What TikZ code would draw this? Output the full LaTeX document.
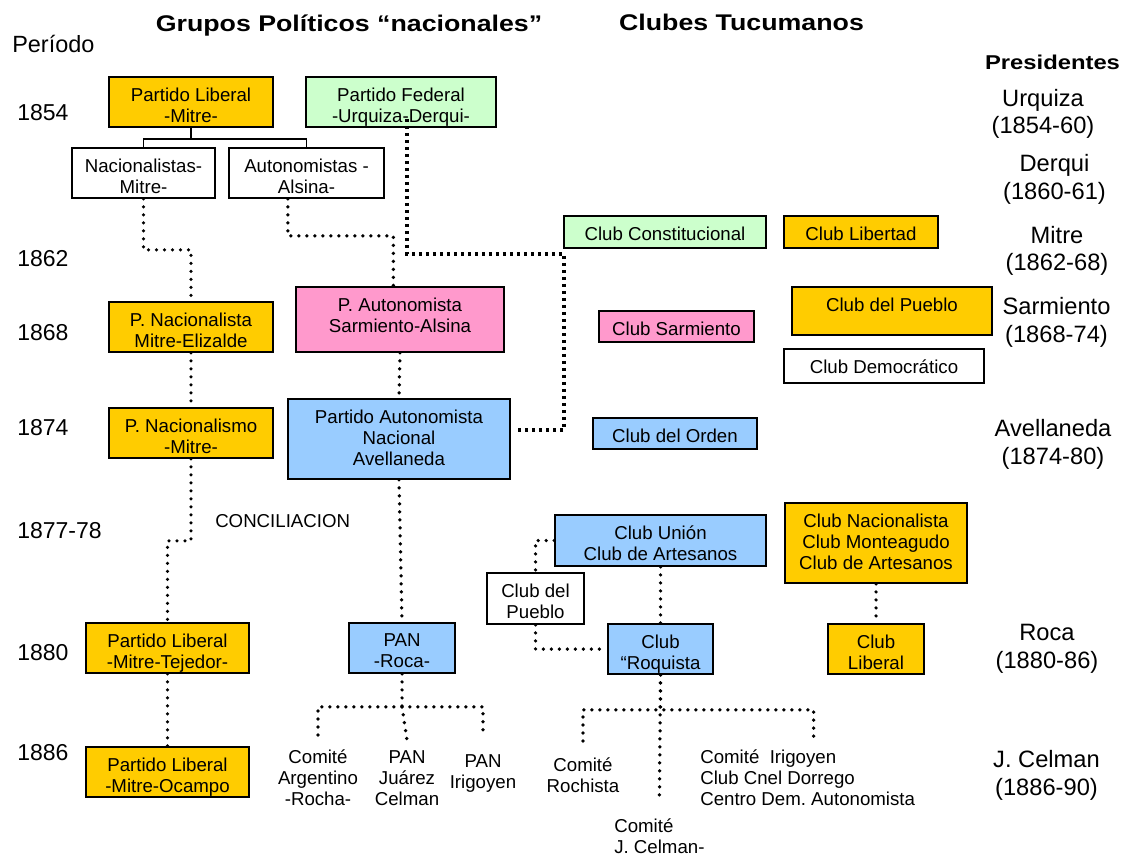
\documentclass[tikz,border=0pt]{standalone}
\usepackage{fontspec}
\setmainfont{Liberation Sans}
\usepackage{graphicx}
\usetikzlibrary{fit}

\definecolor{naranja}{HTML}{FFCC00}
\definecolor{verde}{HTML}{CCFFCC}
\definecolor{rosa}{HTML}{FF99CC}
\definecolor{celeste}{HTML}{99CCFF}

\begin{document}
\begin{tikzpicture}[x=0.75pt, y=-0.75pt,
  caja/.style={draw=black, line width=1.3pt, inner sep=0pt},
  txt/.style={anchor=north, yshift=-8.7pt, align=center, inner sep=0pt,
    font=\fontsize{14}{15.75}\selectfont},
  libre/.style={anchor=base, align=center, inner sep=0pt,
    font=\fontsize{14}{15.75}\selectfont},
  anio/.style={anchor=base west, inner sep=0pt, font=\fontsize{17.25}{20}\selectfont},
  pres/.style={anchor=base, align=center, inner sep=0pt,
    font=\fontsize{17.75}{20.6}\selectfont},
  titulo/.style={anchor=base, inner sep=0pt, font=\fontsize{17}{20}\selectfont\bfseries},
  arbol/.style={line width=1.1pt},
  puntos/.style={line width=2.8pt, line cap=round, dash pattern=on 0pt off 6pt},
  cuadros/.style={line width=2.4pt, dash pattern=on 2.4pt off 2.85pt}]

  % Fix the page size
  \useasboundingbox (0,0) rectangle (1128,858);

  % Titles
  \node[titulo] (t-grupos) at (349,31) {\scalebox{1.18}[1]{Grupos Políticos “nacionales”}};
  \node[titulo] (t-clubes) at (741.5,30.5) {\scalebox{1.18}[1]{Clubes Tucumanos}};
  \node[titulo, font=\fontsize{15}{18}\selectfont\bfseries] (t-pres) at (1052.5,69.5)
    {\scalebox{1.19}[1]{Presidentes}};
  \node[anio, font=\fontsize{17.6}{20}\selectfont] (periodo) at (12,52) {Período};

  % Years on the left
  \node[anio] (a1854) at (17,120.5) {1854};
  \node[anio] (a1862) at (17,266.5) {1862};
  \node[anio] (a1868) at (17,340) {1868};
  \node[anio] (a1874) at (17,435.5) {1874};
  \node[anio] (a1877) at (17,538) {1877-78};
  \node[anio] (a1880) at (17,660) {1880};
  \node[anio] (a1886) at (17,760) {1886};

  % Presidents on the right (placed by their last line)
  \node[pres] (p-urq) at (1043,133.5) {Urquiza\\(1854-60)};
  \node[pres] (p-der) at (1054.5,199) {Derqui\\(1860-61)};
  \node[pres] (p-mit) at (1057,270.5) {Mitre\\(1862-68)};
  \node[pres] (p-sar) at (1056.5,342) {Sarmiento\\(1868-74)};
  \node[pres] (p-ave) at (1053,464) {Avellaneda\\(1874-80)};
  \node[pres] (p-roc) at (1047,668) {Roca\\(1880-86)};
  \node[pres] (p-cel) at (1046.5,795) {J. Celman\\(1886-90)};

  % National groups
  \node[caja, fill=naranja, fit={(109,77) (273,127)},
    label={[txt]north:Partido Liberal\\-Mitre-}] (plib) {};
  \node[caja, fill=verde, fit={(306,77) (496,127)},
    label={[txt]north:Partido Federal\\-Urquiza-Derqui-}] (pfed) {};
  \node[caja, fill=white, fit={(72,148) (215,198)},
    label={[txt]north:Nacionalistas-\\Mitre-}] (nac) {};
  \node[caja, fill=white, fit={(229,148) (384,198)},
    label={[txt]north:Autonomistas -\\Alsina-}] (aut) {};
  \node[caja, fill=naranja, fit={(109,302) (273,352)},
    label={[txt]north:P. Nacionalista\\Mitre-Elizalde}] (pnac) {};
  \node[caja, fill=rosa, fit={(296,287) (504,352)},
    label={[txt]north:P. Autonomista\\Sarmiento-Alsina}] (paut) {};
  \node[caja, fill=naranja, fit={(109,408) (273,458)},
    label={[txt]north:P. Nacionalismo\\-Mitre-}] (pnacm) {};
  \node[caja, fill=celeste, fit={(288,399) (510,479)},
    label={[txt]north:Partido Autonomista\\Nacional\\Avellaneda}] (pana) {};
  \node[caja, fill=naranja, fit={(86,623) (249,673)},
    label={[txt]north:Partido Liberal\\-Mitre-Tejedor-}] (plt) {};
  \node[caja, fill=celeste, fit={(349,623) (455,673)},
    label={[txt]north:PAN\\-Roca-}] (pan) {};
  \node[caja, fill=naranja, fit={(86,747) (249,797)},
    label={[txt]north:Partido Liberal\\-Mitre-Ocampo}] (plo) {};

  % Clubs of Tucuman
  \node[caja, fill=verde, fit={(564,216) (766,248)},
    label={[txt]north:Club Constitucional}] (ccon) {};
  \node[caja, fill=naranja, fit={(784,216) (938,248)},
    label={[txt]north:Club Libertad}] (clib) {};
  \node[caja, fill=rosa, fit={(599,311) (754,342)},
    label={[txt]north:Club Sarmiento}] (csar) {};
  \node[caja, fill=naranja, fit={(792,287) (992,335)},
    label={[txt]north:Club del Pueblo}] (cpue) {};
  \node[caja, fill=white, fit={(784,349) (984,383)},
    label={[txt]north:Club Democrático}] (cdem) {};
  \node[caja, fill=celeste, fit={(593,418) (757,449)},
    label={[txt]north:Club del Orden}] (cord) {};
  \node[caja, fill=celeste, fit={(555,515) (766,566)},
    label={[txt]north:Club Unión\\Club de Artesanos}] (cuni) {};
  \node[caja, fill=naranja, fit={(785,503) (967,583)},
    label={[txt]north:Club Nacionalista\\Club Monteagudo\\Club de Artesanos}] (cnac) {};
  \node[caja, fill=white, fit={(487,573) (584,624)},
    label={[txt]north:Club del\\Pueblo}] (cdp) {};
  \node[caja, fill=celeste, fit={(608,624) (713,674)},
    label={[txt]north:Club\\“Roquista}] (croq) {};
  \node[caja, fill=naranja, fit={(828,624) (924,674)},
    label={[txt]north:Club\\Liberal}] (clbl) {};

  % Loose labels (placed by their last line)
  \node[libre, anchor=base west] (concil) at (215,527) {CONCILIACION};
  \node[libre] (cag) at (318,805) {Comité\\Argentino\\-Rocha-};
  \node[libre] (pjc) at (407,805) {PAN\\Juárez\\Celman};
  \node[libre] (pir) at (483,788) {PAN\\Irigoyen};
  \node[libre] (croch) at (583,792) {Comité\\Rochista};
  \node[libre, anchor=base west, align=left] (cjc) at (614,853) {Comité\\J. Celman-};
  \node[libre, anchor=base west, align=left] (cirg) at (700,805)
    {Comité\ \ Irigoyen\\Club Cnel Dorrego\\Centro Dem.\ Autonomista};

  % Split of the Partido Liberal
  \draw[arbol] (plib.south) -- ++(0,11) coordinate (plib-b);
  \draw[arbol] (nac.north) |- (plib-b) -| (aut.north);

  % Dotted lines between the groups
  \draw[puntos] (nac.south) -- ++(0,51) -| (pnac.north);
  \draw[puntos] ([xshift=-14pt]aut.south) -- ++(0,37) -| ([xshift=-5pt]paut.north);
  \draw[puntos] (pnac.south) -- (pnacm.north);
  \draw[puntos] (paut.south) -- (pana.north);
  \draw[puntos] (pnacm.south) -- ++(0,82) -| (plt.north);
  \draw[puntos] (plt.south) -- (plo.north);
  \draw[puntos] (pana.south) -- (pan.north);

  % Federal line into the PAN
  \draw[cuadros] ([xshift=4.5pt,yshift=6.75pt]pfed.south) |- (564,254)
    |- ([xshift=5pt,yshift=6.75pt]pana.east);

  % Branches under the PAN
  \draw[puntos] (pan.south) -- ++(0,33) coordinate (pan-b);
  \draw[puntos] ([yshift=10.5pt]cag.north) |- (pan-b) -| ([yshift=12.5pt]pir.north);
  \draw[puntos] (pan-b) -- ([yshift=7pt]pjc.north);

  % Dotted lines between the clubs
  \draw[puntos] (cuni.west) -| (cdp.north);
  \draw[puntos] (cdp.south) |- (croq.west);
  \draw[puntos] (cuni.south) -- (croq.north);
  \draw[puntos] (cnac.south) -- (clbl.north);

  % Branches under the Club Roquista
  \draw[puntos] (croq.south) -- ++(0,35) coordinate (croq-b);
  \draw[puntos] ([yshift=12pt]croch.north) |- (croq-b)
    -| ([xshift=4.5pt,yshift=8.25pt]cirg.north);
  \draw[puntos] (croq.south) -- ([yshift=12.75pt]cjc.north);

\end{tikzpicture}
\end{document}
